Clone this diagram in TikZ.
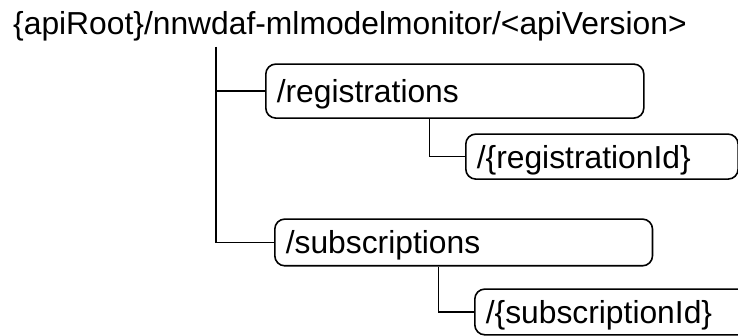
\documentclass[tikz,border=0pt]{standalone}
\usepackage{fontspec}
\setmainfont{Liberation Sans}
\begin{document}
\begin{tikzpicture}[x=1pt,y=-1pt,
  lbl/.style={font=\fontsize{31.8}{38}\selectfont, inner sep=0pt},
  res/.style={draw, line width=1.6pt, rounded corners=10pt, anchor=north west,
    font=\fontsize{31.8}{38}\selectfont, inner xsep=11pt, inner ysep=0pt,
    text height=22.9pt, text depth=0pt, align=left},
  conn/.style={draw, line width=1.6pt}]
\clip (0,0) rectangle (738,336);
\node[lbl, anchor=base west] (root) at (13,35) {\{apiRoot\}/nnwdaf-mlmodelmonitor/<apiVersion>};
\coordinate (trunk) at (215.7,47);
\node[res, minimum width=378pt, minimum height=54pt, text width=356pt] (reg) at (265,63.3) {/registrations};
\node[res, minimum width=272.3pt, minimum height=45pt, text width=250.3pt] (regid) at (465,133.3) {/\{registrationId\}};
\node[res, minimum width=377.7pt, minimum height=46.7pt, text width=355.7pt] (sub) at (274,218.3) {/subscriptions};
\node[res, minimum width=290pt, minimum height=45.7pt, text width=268pt] (subid) at (474,288.3) {/\{subscriptionId\}};
\draw[conn] (trunk) |- (reg.west);
\draw[conn] (trunk) |- (sub.west);
\draw[conn] ([xshift=164.3pt]reg.south west) |- (regid.west);
\draw[conn] ([xshift=164.3pt]sub.south west) |- (subid.west);
\end{tikzpicture}
\end{document}
